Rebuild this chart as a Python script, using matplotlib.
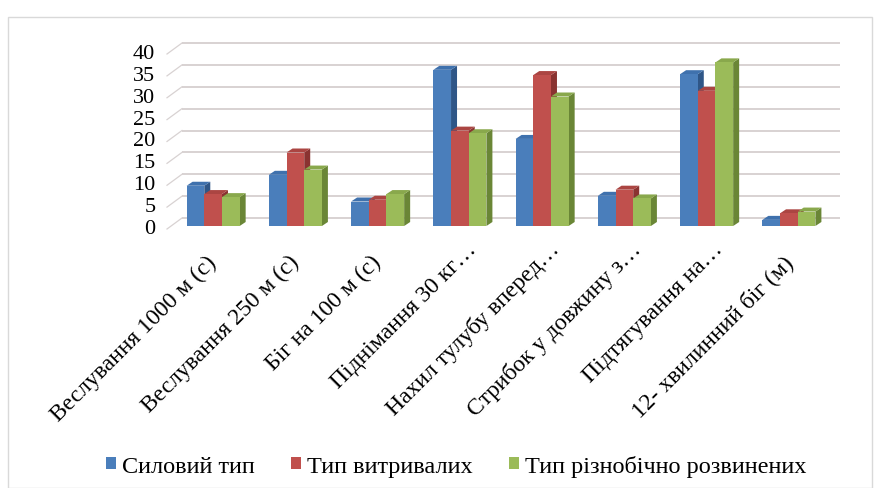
import numpy as np
import matplotlib
matplotlib.use("Agg")
import matplotlib.pyplot as plt
from matplotlib.patches import Polygon, Patch, Rectangle

# ---- data ----
categories = [
    "Веслування 1000 м (с)",
    "Веслування 250 м (с)",
    "Біг на 100 м (с)",
    "Піднімання 30 кг…",
    "Нахил тулубу вперед…",
    "Стрибок у довжину з…",
    "Підтягування на…",
    "12- хвилинний біг (м)",
]
series_names = ["Силовий тип", "Тип витривалих", "Тип різнобічно розвинених"]
power_type = [9.2, 11.7, 5.6, 35.7, 19.9, 6.9, 34.7, 1.4]
endurance_type = [7.3, 16.8, 6.0, 21.8, 34.5, 8.3, 30.9, 2.9]
versatile_type = [6.6, 12.9, 7.3, 21.2, 29.6, 6.3, 37.4, 3.3]
y_ticks = [0, 5, 10, 15, 20, 25, 30, 35, 40]

series = [power_type, endurance_type, versatile_type]
front_colors = ["#4a7ebb", "#c0504d", "#9bbb59"]
side_colors = ["#2f5687", "#8a3331", "#6a8636"]
top_colors = ["#3f71ad", "#ab4542", "#89a84c"]

W, H, DPI = 881, 489, 100
fig = plt.figure(figsize=(W / DPI, H / DPI), dpi=DPI)
fig.patch.set_facecolor("white")

# outer chart border
fig.add_artist(Rectangle((8 / W, 0.0), 864 / W, (H - 18) / H, transform=fig.transFigure,
                         fill=False, edgecolor="#d9d9d9", lw=1.0))

ax_l, ax_r, ax_b, ax_t = 172, 830, 227, 52  # pixel box of the front plane
ax = fig.add_axes([ax_l / W, (H - ax_b) / H, (ax_r - ax_l) / W, (ax_b - ax_t) / H])
ax.set_xlim(-0.5, len(categories) - 0.5)
ax.set_ylim(0, 40)
for s in ax.spines.values():
    s.set_visible(False)
ax.set_xticks([])
ax.set_yticks(y_ticks)
ax.tick_params(axis="y", length=0, pad=12)
for t in ax.get_yticklabels():
    t.set_fontfamily("Liberation Serif")
    t.set_fontsize(16)
ax.patch.set_alpha(0)

# pixel -> data conversions for the depth effect
px_x = (len(categories)) / (ax_r - ax_l)
px_y = 40 / (ax_b - ax_t)

# back wall gridlines and their slanted left edges
wall_dx, wall_dy = 10 * px_x, 8 * px_y
x0, x1 = -0.5, len(categories) - 0.5
grid_c = "#d8d2d2"
for v in y_ticks:
    ax.plot([x0 + wall_dx, x1 + wall_dx], [v + wall_dy, v + wall_dy], color=grid_c,
            lw=1.4, zorder=1, clip_on=False, solid_capstyle="butt")
    ax.plot([x0 - 5 * px_x, x0 + wall_dx], [v - 3 * px_y, v + wall_dy], color=grid_c,
            lw=0.9, zorder=1, clip_on=False)

# 3D-looking bars
bw = 0.215
ddx, ddy = 6 * px_x, 4 * px_y
x = np.arange(len(categories))
for gi in range(len(categories)):
    for si, vals in enumerate(series):
        v = vals[gi]
        xl = x[gi] + (si - 1) * bw - bw / 2
        xr = xl + bw
        side = Polygon([(xr, 0), (xr, v), (xr + ddx, v + ddy), (xr + ddx, ddy)],
                       closed=True, facecolor=side_colors[si], edgecolor="none", zorder=3)
        top = Polygon([(xl, v), (xr, v), (xr + ddx, v + ddy), (xl + ddx, v + ddy)],
                      closed=True, facecolor=top_colors[si], edgecolor="none", zorder=3)
        ax.add_patch(side)
        ax.add_patch(top)
        ax.bar(xl, v, width=bw, align="edge", color=front_colors[si], zorder=3, lw=0)

# category labels; shortened names sit a little further up along the slant
for i, lab in enumerate(categories):
    shift = 13 if lab.endswith("…") else 0
    ax.annotate(lab, xy=(x[i], 0), xytext=(-7 + shift, -25 + shift), textcoords="offset pixels",
                ha="right", va="top", rotation=45, rotation_mode="anchor",
                fontfamily="Liberation Serif", fontsize=17, annotation_clip=False)

# legend
handles = [Patch(facecolor=c, edgecolor="none") for c in front_colors]
fig.legend(handles, series_names, loc="center", bbox_to_anchor=(456 / W, 1 - 467 / H),
           ncol=3, frameon=False, prop={"family": "Liberation Serif", "size": 17.5},
           handlelength=0.4, handleheight=0.4, handletextpad=0.25, columnspacing=1.5)

fig.savefig("out.png", dpi=DPI, facecolor="white")
